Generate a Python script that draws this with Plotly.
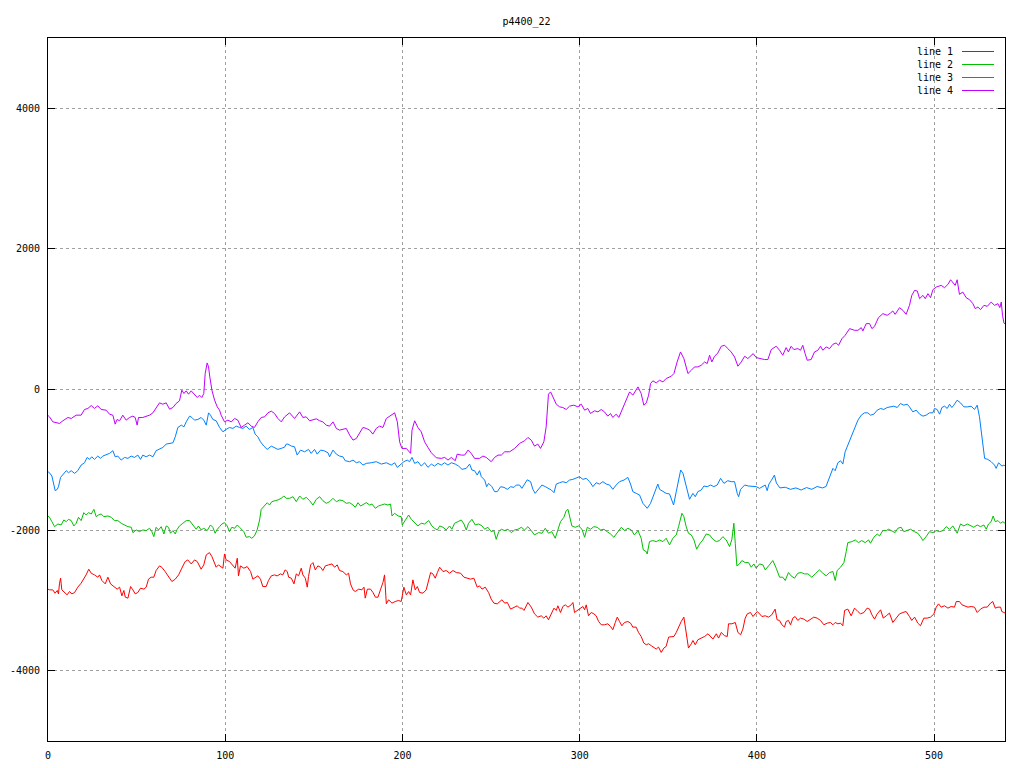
import plotly.graph_objects as go

title_text = "p4400_22"
series_names = ["line 1", "line 2", "line 3", "line 4"]
series_colors = ["#ff0000", "#00c000", "#0080ff", "#c000ff"]
x_ticks = [0, 100, 200, 300, 400, 500]
y_ticks = [-4000, -2000, 0, 2000, 4000]
y_tick_labels = ["-4000", "-2000", "0", "2000", "4000"]

line1 = [(0,-2840),(0.85,-2850),(2.7,-2850),(4,-2897),(5.2,-2859),(5.9,-2907),(6.5,-2755),(7.1,-2684),(7.8,-2850),(8.9,-2874),
(10.8,-2921),(12.1,-2874),(13.5,-2907),(15,-2888),(16.8,-2812),(18.7,-2755),(20.2,-2698),(21.5,-2637),(23,-2556),(24.4,-2613),
(26.2,-2637),(28.1,-2670),(29.1,-2637),(30.4,-2717),(32.3,-2765),(33.8,-2670),(35.3,-2765),(37.2,-2803),(39,-2840),(40.4,-2812),
(41.7,-2935),(42.8,-2859),(43.6,-2954),(45.1,-2968),(46.6,-2803),(47.9,-2850),(49.2,-2907),(50.7,-2888),(52.2,-2826),(54.1,-2840),
(55.4,-2812),(56.7,-2698),(58.2,-2670),(59.7,-2670),(61,-2575),(62.9,-2509),(64.2,-2528),(66.1,-2590),(68,-2660),(69.9,-2731),
(71.8,-2698),(73.7,-2637),(75.5,-2542),(77.4,-2447),(78.9,-2424),(80.8,-2481),(82.7,-2424),(84.2,-2447),(86.4,-2556),(87.9,-2495),
(89.3,-2353),(91.1,-2320),(92.5,-2377),(93.6,-2447),(94.9,-2528),(96.2,-2495),(97.7,-2519),(98.7,-2542),(99.6,-2339),(100.5,-2424),
(102.4,-2447),(104.3,-2495),(105.6,-2542),(106.8,-2400),(107.5,-2651),(108.6,-2509),(110.5,-2542),(112.4,-2519),(114.3,-2590),(115.6,-2698),
(116.9,-2670),(118.4,-2651),(119.9,-2698),(121.2,-2803),(123.1,-2803),(124.4,-2717),(126,-2651),(127.8,-2637),(129.3,-2651),(131.2,-2623),
(132.5,-2637),(133.8,-2566),(135,-2590),(135.8,-2670),(137.3,-2684),(138.8,-2765),(140.1,-2623),(141.4,-2651),(142.9,-2542),(143.8,-2637),
(145.2,-2684),(146.3,-2812),(147,-2660),(148.2,-2495),(149.5,-2462),(150.8,-2566),(152.3,-2509),(153.8,-2528),(155.1,-2575),(156.5,-2509),
(158.3,-2495),(160.2,-2481),(161.7,-2528),(163.2,-2495),(164.5,-2575),(166.4,-2590),(168.3,-2637),(169.6,-2613),(170.7,-2765),(172.1,-2850),
(173.4,-2874),(175.3,-2840),(177.1,-2850),(178.3,-2812),(179,-2968),(180.2,-2840),(182,-2840),(183.4,-2888),(184.7,-2954),(186.2,-2954),
(187.7,-2840),(189,-2746),(189.9,-2637),(190.9,-3049),(192.2,-2992),(194.1,-3039),(195.9,-3016),(197.8,-3001),(199.3,-3016),(200.3,-2897),
(200.8,-2812),(202.2,-2921),(203.5,-2874),(204.6,-2921),(205.9,-2708),(207.2,-2850),(208.4,-2803),(209.7,-2888),(211.6,-2897),(213.4,-2850),
(214.8,-2717),(215.9,-2604),(217.2,-2623),(218.5,-2684),(219.7,-2604),(221,-2528),(222.9,-2590),(224.7,-2575),(226.6,-2613),(228.5,-2575),
(230.4,-2604),(232.8,-2613),(234.7,-2670),(236.6,-2684),(238.5,-2698),(240.3,-2684),(242.2,-2812),(243.5,-2793),(244.9,-2840),(246.7,-2812),
(248.6,-2888),(250.1,-2982),(251.6,-3039),(253.5,-3049),(254.8,-3016),(256.1,-2992),(257.7,-3039),(259.2,-3030),(261,-3124),(262.9,-3096),
(264.8,-3077),(266.1,-3110),(267.4,-3110),(268.6,-3143),(269.9,-3063),(270.8,-3030),(272.7,-3096),(274.5,-3191),(276.4,-3238),(278.3,-3219),
(279.8,-3252),(281.1,-3219),(282.4,-3276),(283.9,-3191),(285.5,-3110),(286.8,-3143),(287.7,-3077),(289.2,-3172),(290.5,-3087),(291.9,-3063),
(293.4,-3096),(295.2,-3063),(296.2,-3030),(297.1,-3172),(298.6,-3143),(300.5,-3110),(301.8,-3087),(302.8,-3134),(303.7,-3063),(305,-3219),
(306.5,-3172),(308,-3191),(309.3,-3219),(310.7,-3300),(312.2,-3347),(314,-3347),(315.9,-3333),(317.4,-3371),(318.7,-3418),(320.1,-3314),
(321.2,-3238),(322.5,-3300),(323.8,-3361),(325.3,-3314),(327.2,-3300),(328.7,-3323),(330,-3380),(331.9,-3380),(333.2,-3456),(334.7,-3513),
(336.2,-3607),(337.6,-3631),(338.9,-3617),(340.4,-3645),(341.9,-3664),(343.2,-3692),(344.5,-3664),(346,-3740),(347.5,-3678),(348.8,-3655),
(350.2,-3522),(351.7,-3513),(353.2,-3513),(354.5,-3456),(355.8,-3380),(357.3,-3300),(358.8,-3238),(359.6,-3371),(360.7,-3560),(361.4,-3678),
(363,-3617),(363.9,-3570),(365.2,-3631),(366.7,-3560),(368.6,-3536),(370.5,-3513),(372.4,-3475),(373.9,-3513),(375.2,-3550),(377.1,-3475),
(378.4,-3536),(379.9,-3456),(381.8,-3503),(383.3,-3513),(384,-3333),(385.9,-3333),(387.8,-3314),(389.3,-3456),(390.8,-3489),(392.1,-3408),
(393.4,-3252),(394.6,-3191),(396.4,-3172),(397.8,-3229),(399.1,-3181),(400.2,-3158),(401.5,-3191),(402.8,-3229),(404.7,-3219),(406.6,-3238),
(408.4,-3205),(410.3,-3124),(411.4,-3276),(412.8,-3285),(414.1,-3347),(415.6,-3380),(416.5,-3300),(417.8,-3285),(419,-3347),(420.3,-3252),
(421.6,-3229),(423.1,-3285),(424.6,-3252),(426.5,-3266),(428.4,-3300),(430.3,-3266),(432.1,-3238),(434,-3252),(435.9,-3285),(437.8,-3347),
(439.7,-3323),(441.5,-3314),(442.9,-3347),(444.2,-3314),(445.7,-3333),(447.2,-3323),(448.5,-3361),(449.5,-3143),(451.3,-3124),(453.2,-3219),
(455.1,-3110),(457,-3158),(458.5,-3191),(460.4,-3172),(462.2,-3110),(463.6,-3124),(464.9,-3205),(466.4,-3266),(467.9,-3191),(469.8,-3134),
(471.3,-3252),(473,-3219),(474.8,-3181),(476.7,-3314),(478.6,-3252),(480.5,-3191),(482.4,-3172),(484.2,-3158),(486.1,-3229),(487.4,-3285),
(489,-3238),(490.8,-3323),(492.3,-3361),(494.2,-3252),(496.1,-3252),(498,-3238),(499.9,-3191),(501.2,-3096),(502.5,-3049),(504,-3096),
(505.9,-3077),(507.8,-3110),(509.6,-3087),(511.5,-3096),(512.5,-3016),(514.3,-3016),(515.7,-3063),(517.2,-3077),(519.1,-3096),(520.9,-3087),
(522.8,-3096),(524.3,-3172),(526.2,-3124),(528.1,-3096),(530,-3096),(531.8,-3039),(533.1,-3016),(534.5,-3110),(536,-3096),(537.5,-3096),
(538.2,-3158),(539.4,-3172),(540,-3180)]

line2 = [(0,-1800),(0.85,-1818),(2.2,-1880),(3.7,-1951),(5.6,-1913),(7.4,-1927),(8.9,-1856),(10.3,-1880),(11.6,-1847),(13.1,-1865),
(14.6,-1941),(15.9,-1903),(17.2,-1818),(18.7,-1865),(20.2,-1752),(21.5,-1785),(22.9,-1752),(24.4,-1771),(25.9,-1705),(27.2,-1809),
(28.5,-1785),(30,-1771),(31.5,-1809),(33.8,-1799),(35.7,-1818),(37.5,-1865),(39.4,-1865),(41.3,-1903),(43.2,-1927),(45.1,-1951),
(47,-1960),(47.9,-2036),(49.8,-1998),(51.6,-2022),(53.5,-1998),(55.4,-2007),(57.3,-1974),(58.6,-2022),(59.7,-2093),(61,-1960),
(62.4,-1998),(63.9,-1951),(65.4,-2055),(66.7,-1941),(68,-1960),(69.1,-2045),(70.5,-2007),(71.8,-2055),(72.9,-1988),(74.2,-1941),
(76.1,-1903),(78,-1865),(79.9,-1865),(81.7,-1927),(83.6,-1988),(84.9,-1941),(86.4,-1998),(87.9,-1974),(89.8,-2007),(91.7,-1927),
(93,-1960),(94.3,-2045),(95.5,-1988),(96.8,-1951),(98.1,-1913),(99.6,-1894),(101.1,-1941),(102.4,-2022),(103.7,-1960),(105.3,-1974),
(106.8,-1927),(108.1,-1960),(109.4,-1988),(110.5,-2022),(111.8,-2102),(113.7,-2093),(115,-2116),(116.5,-2083),(118,-1998),(119.4,-1856),
(120.3,-1705),(122.2,-1643),(123.7,-1610),(125,-1643),(126.3,-1596),(128.2,-1581),(129.7,-1572),(131.6,-1548),(133.1,-1515),(134.4,-1548),
(136.3,-1548),(138.2,-1525),(140.1,-1596),(142,-1515),(143.8,-1562),(145.7,-1534),(147.6,-1581),(149.5,-1643),(151.4,-1562),(153.3,-1525),
(155.1,-1581),(157,-1619),(158.9,-1596),(160.8,-1548),(162.7,-1596),(164.5,-1572),(166.4,-1581),(168.3,-1619),(170.2,-1610),(172.1,-1643),
(173.4,-1676),(174.9,-1610),(176.4,-1657),(178.3,-1629),(179.6,-1610),(181.5,-1643),(182.8,-1629),(184.7,-1690),(186.5,-1657),(188.1,-1643),
(189.9,-1629),(191.8,-1643),(193.3,-1629),(194.1,-1799),(195.6,-1761),(197.5,-1799),(199.3,-1809),(199.9,-1927),(201.6,-1865),(203.5,-1785),
(205,-1847),(206.9,-1903),(208.7,-1941),(210.6,-1903),(212.5,-1913),(214.8,-1865),(216.6,-1941),(218.1,-1974),(219.7,-1998),(221,-1941),
(222.9,-1960),(224.7,-1998),(226.6,-1941),(227.9,-1988),(229.4,-1903),(231.3,-1880),(233.2,-1856),(234.7,-1913),(236,-1998),(237.3,-1903),
(239.2,-1847),(241.1,-1927),(243,-1913),(244.9,-1941),(246.4,-1988),(248.2,-1960),(250.1,-2022),(251.6,-2007),(252.9,-2131),(254.3,-2022),
(255.8,-1988),(257.7,-2007),(259.5,-1988),(261.4,-2036),(263.3,-1998),(265.2,-1988),(267.1,-1960),(268.9,-1998),(270.8,-1951),(272.7,-2007),
(274.5,-2069),(276.8,-2036),(278.7,-2045),(280.6,-1974),(282.4,-2045),(284.3,-2022),(286.2,-2116),(287.7,-1998),(289.2,-1880),(291.1,-1818),
(292.4,-1723),(293.4,-1705),(294.3,-1818),(295.6,-1941),(297.5,-1960),(299.4,-1941),(301.3,-1988),(302.8,-2102),(304.3,-1960),(306.1,-1988),
(308,-1951),(309.9,-1960),(311.8,-1998),(313.7,-1988),(315.5,-2022),(317.4,-2055),(319.3,-2102),(321.2,-2045),(323.5,-1960),(325.3,-2007),
(327.2,-1974),(329.1,-1998),(330.9,-2069),(332.9,-2007),(334.7,-2116),(335.9,-2282),(337.6,-2306),(338.1,-2339),(339.4,-2164),(341.3,-2149),
(343.2,-2164),(345.1,-2140),(347,-2164),(348.8,-2116),(350.7,-2211),(352.6,-2116),(354.5,-2069),(355.8,-1951),(356.9,-1832),(357.7,-1761),
(358.8,-1809),(360.1,-1951),(361.4,-2045),(363,-2069),(364.5,-2140),(366,-2272),(367.7,-2197),(369.5,-2140),(371.4,-2055),(373.3,-2069),
(375.2,-2130),(377.1,-2164),(378.9,-2149),(380.8,-2093),(382.7,-2140),(384.6,-2235),(385.9,-2130),(387,-1903),(387.8,-2187),(388.7,-2509),
(390.2,-2481),(391.5,-2433),(393.4,-2462),(395.3,-2462),(396.8,-2528),(398.3,-2481),(399.6,-2542),(401.5,-2481),(403.4,-2495),(404.7,-2566),
(406.6,-2509),(409,-2433),(410.9,-2542),(412.8,-2670),(414.6,-2670),(416,-2717),(417.8,-2604),(419.3,-2651),(421.2,-2684),(423.1,-2613),
(425,-2604),(426.9,-2623),(428.8,-2623),(431,-2670),(432.9,-2623),(435.3,-2566),(437.2,-2613),(439.1,-2651),(441,-2604),(442.9,-2590),
(444.2,-2717),(445.3,-2575),(447.2,-2528),(449.1,-2462),(450.4,-2306),(451.3,-2178),(453.6,-2164),(455.5,-2140),(457.3,-2178),(459.2,-2149),
(461.1,-2178),(463,-2140),(464.1,-2187),(466,-2102),(467.9,-2055),(469.2,-2083),(471.1,-2007),(473,-2007),(474.3,-1988),(476.2,-2007),
(478,-2036),(479.5,-1974),(481.4,-1960),(482.9,-2022),(484.8,-2007),(486.7,-1988),(488.9,-2022),(490.8,-2045),(492.3,-2093),(493.7,-2149),
(495.5,-2093),(497.4,-2022),(499.3,-2036),(501.2,-2007),(503.1,-2022),(505,-2007),(506.8,-1951),(508.7,-1988),(510.6,-1941),(511.9,-2007),
(513,-2045),(514.9,-1913),(516.8,-1941),(518.7,-1913),(520.5,-1941),(522.4,-1960),(524.3,-1927),(526.2,-1951),(528.1,-1927),(529.4,-1988),
(530.7,-1913),(532.2,-1880),(533.3,-1799),(534.5,-1880),(536,-1865),(537.5,-1903),(538.8,-1880),(540,-1903)]

line3 = [(0,-1170),(0.85,-1184),(2.2,-1231),(3.3,-1383),(4.05,-1439),(5.2,-1420),(5.9,-1383),(7.1,-1250),(8.4,-1217),(10.3,-1155),
(11.6,-1184),(13.1,-1155),(15,-1193),(16.8,-1155),(18.7,-1075),(20.6,-1042),(22.1,-966),(23.4,-994),(24.7,-957),(26.2,-994),
(28.1,-947),(29.6,-980),(30.9,-947),(32.8,-933),(34.7,-909),(36.6,-871),(37.9,-957),(39.4,-947),(41.3,-1004),(43.2,-966),
(45.1,-980),(46.9,-947),(48.8,-966),(50.7,-933),(52.2,-994),(53.5,-933),(55.4,-957),(57.3,-933),(59.2,-957),(61,-871),
(62.9,-852),(64.8,-824),(66.7,-777),(68.6,-767),(70.5,-758),(71.8,-673),(73.3,-540),(75.2,-507),(76.7,-531),(78,-460),
(79.9,-379),(81.2,-398),(82.7,-436),(84.6,-426),(86.4,-398),(87.9,-436),(89.3,-507),(90.6,-332),(91.7,-365),(93,-426),
(94.9,-445),(96.8,-540),(98.7,-602),(100.5,-568),(102.4,-540),(104.3,-554),(106.2,-521),(108.1,-540),(109.9,-554),(111.8,-521),
(113.7,-568),(115.6,-540),(116.9,-635),(118.4,-673),(119.9,-744),(121.8,-805),(123.7,-852),(126,-805),(127.8,-824),(129.7,-852),
(131.6,-838),(133.5,-820),(134.4,-777),(135.4,-777),(137.3,-805),(139.1,-815),(140.6,-933),(142.5,-862),(144.8,-886),(147,-852),
(148.5,-909),(150.4,-852),(151.9,-919),(153.8,-862),(155.7,-871),(158,-900),(158.9,-957),(160.8,-862),(162.7,-919),(164.5,-947),
(166.4,-957),(167.7,-1013),(170.2,-1027),(172.1,-1004),(174,-1042),(175.8,-1027),(177.7,-1075),(179.6,-1051),(182.4,-1042),(185.2,-1027),
(188.1,-1061),(190.9,-1042),(193.7,-1075),(195.6,-1042),(197.1,-1108),(199,-1061),(200.8,-1027),(202.7,-1004),(204,-1027),(205.4,-966),
(206.9,-1051),(208.7,-1027),(210.6,-1089),(212.5,-1042),(214.4,-1108),(216.3,-1061),(218.1,-1089),(220,-1051),(221.9,-1075),(223.8,-1042),
(225.7,-1075),(227.6,-1042),(229.8,-1061),(231.7,-1089),(233.6,-1136),(236,-1122),(237.9,-1061),(239.2,-1146),(240.7,-1155),(242.2,-1217),
(243.5,-1155),(244.5,-1240),(246.4,-1288),(247.5,-1383),(248.6,-1335),(250.5,-1383),(252,-1453),(253.5,-1453),(255.4,-1383),(257.3,-1392),
(259.2,-1420),(261,-1383),(262.9,-1392),(264.2,-1359),(266.1,-1359),(267.4,-1406),(268.9,-1340),(270.4,-1285),(272.3,-1311),(273.6,-1420),
(274.9,-1477),(276.8,-1420),(278.7,-1359),(280.6,-1382),(282.4,-1406),(284,-1430),(285.5,-1468),(286.8,-1345),(288.7,-1326),(290.5,-1311),
(292.4,-1326),(294.3,-1288),(296.2,-1278),(298.1,-1264),(299.9,-1240),(301.8,-1278),(303.7,-1264),(305.6,-1311),(307.5,-1382),(309.3,-1326),
(311.2,-1345),(313.1,-1311),(315,-1345),(316.9,-1359),(318.7,-1420),(320.6,-1359),(322.5,-1311),(325,-1288),(327.2,-1250),(328.7,-1345),
(330,-1453),(331.9,-1477),(333.8,-1501),(335.7,-1619),(338.1,-1690),(340,-1619),(341.9,-1501),(342.6,-1430),(344.1,-1345),(345.1,-1420),
(347,-1453),(348.8,-1477),(350.7,-1486),(353,-1643),(354.5,-1453),(355.8,-1311),(357,-1146),(358.3,-1193),(359.6,-1311),(361.1,-1477),
(362,-1562),(363.9,-1477),(365.2,-1525),(366.7,-1453),(368.6,-1430),(370.1,-1373),(372,-1382),(373.9,-1359),(375.7,-1382),(377.6,-1359),
(379.5,-1264),(381.4,-1335),(383.6,-1297),(385.5,-1311),(387.4,-1311),(388.9,-1477),(389.7,-1525),(390.8,-1420),(393.1,-1359),(395.3,-1373),
(397.8,-1373),(399.6,-1382),(401.5,-1406),(402.8,-1382),(404.7,-1359),(405.8,-1439),(406.8,-1345),(408,-1300),(409.9,-1217),(411,-1330),
(413,-1400),(416,-1390),(419,-1420),(422,-1400),(425,-1430),(428,-1395),(431,-1420),(434,-1380),(437,-1400),(439,-1380),
(440.4,-1278),(441.5,-1193),(442.9,-1122),(444.2,-1155),(445.7,-1042),(447.2,-1013),(448.5,-1061),(449.8,-886),(451.3,-791),(452.8,-720),
(454.1,-616),(455.5,-531),(457,-436),(458.9,-365),(460.7,-332),(462.6,-332),(464.1,-365),(466,-351),(467.9,-294),(469.8,-270),
(471.6,-284),(473.5,-256),(475.4,-247),(477.3,-237),(479.2,-256),(481,-199),(482.9,-223),(484.8,-209),(486.1,-247),(488,-318),
(489.9,-294),(491.8,-351),(493.7,-379),(495.5,-365),(497.4,-332),(499.3,-332),(500.2,-270),(501.7,-284),(503.1,-351),(504.4,-256),
(505.9,-237),(507.4,-270),(508.7,-209),(510,-256),(511.1,-223),(513,-152),(514.9,-190),(516.8,-247),(519,-247),(520.9,-237),
(522.8,-284),(524.3,-223),(525.6,-389),(526.6,-578),(527.5,-814),(528.5,-980),(530.3,-994),(532.2,-1027),(534.1,-1075),(535,-1122),
(536.4,-1042),(538.2,-1089),(539.4,-1075),(540,-1090)]

line4 = [(0,-370),(0.85,-389),(2.7,-460),(6.5,-483),(8.4,-445),(10.3,-420),(11.2,-398),(13.1,-412),(15.9,-365),(18.7,-365),
(20.6,-284),(22.5,-270),(24.4,-228),(26.2,-270),(28.1,-232),(30,-284),(32.8,-294),(34.7,-351),(36.6,-365),(37.9,-493),
(39,-426),(40.4,-445),(42.2,-365),(44.1,-436),(46,-398),(47.9,-379),(49.2,-398),(50.3,-507),(51.1,-398),(53.5,-398),
(55.4,-379),(57.3,-365),(59.2,-332),(61,-270),(62.9,-190),(64.8,-209),(66.7,-190),(68.6,-280),(70.5,-256),(72.3,-199),
(74.2,-161),(75.5,-10),(76.7,-57),(78,-19),(79.3,-67),(80.8,-19),(82.7,-67),(84.2,-114),(85.5,-81),(86.8,-114),
(87.9,-57),(88.7,227),(89.8,378),(90.6,321),(91.3,179),(92.5,-10),(94,-152),(95.5,-247),(96.8,-294),(97.7,-365),
(99.6,-460),(101.5,-436),(103.4,-460),(105.3,-412),(107.1,-436),(109,-540),(110.9,-507),(112.8,-474),(114.7,-521),(116.5,-540),
(118.4,-460),(120.3,-398),(122.2,-389),(124.1,-332),(126,-308),(127.8,-341),(129.7,-412),(131.6,-460),(133.5,-390),(135.9,-332),
(136.3,-332),(139.1,-412),(142,-318),(143.8,-398),(145.7,-389),(147.6,-445),(149.5,-426),(151.4,-417),(153.3,-445),(155.1,-460),
(157,-507),(158.9,-521),(160.8,-460),(162.7,-554),(164.5,-578),(166.4,-568),(168.3,-554),(170.2,-649),(172.1,-720),(174,-696),
(175.8,-625),(177.7,-540),(179.6,-554),(181.5,-578),(183.3,-635),(185.2,-554),(187.1,-521),(189,-540),(190.9,-412),(193.3,-365),
(195.6,-332),(197.1,-460),(198.4,-744),(199.7,-838),(202.2,-838),(204.6,-909),(205.4,-578),(206.9,-445),(208.7,-540),(210.6,-602),
(212.5,-744),(214.4,-824),(216.3,-900),(219.1,-971),(221.9,-980),(223.8,-966),(225.7,-1004),(227.6,-966),(229.8,-1013),(230.9,-919),
(233.2,-933),(235.1,-933),(237,-862),(238.8,-909),(240.7,-980),(243.5,-980),(245.4,-947),(247.3,-966),(250.1,-1027),(252,-966),
(253.9,-933),(255.8,-933),(257.7,-886),(260.5,-886),(263.3,-838),(266.1,-767),(268.9,-730),(270.8,-682),(272.7,-720),(274.5,-805),
(276.4,-777),(277.9,-838),(279.8,-744),(281.1,-531),(281.7,-247),(282.4,-67),(283.6,-34),(285.5,-128),(286.8,-209),(288.7,-247),
(290.5,-256),(292.4,-284),(294.3,-237),(296.7,-223),(299,-247),(300.9,-209),(302.8,-294),(304.6,-270),(306.1,-341),(308.4,-303),
(310.3,-318),(312.2,-284),(314,-318),(315.9,-379),(317.4,-341),(318.7,-398),(320.6,-351),(322.1,-398),(323.5,-318),(325.3,-209),
(327.2,-105),(328.2,-34),(330,-81),(332.9,37),(334.7,-57),(336.2,-223),(337.6,-190),(338.9,-81),(340,85),(341.3,123),
(343.2,94),(345.1,132),(347,108),(348.8,156),(351.7,189),(353.2,227),(355,392),(356.9,534),(358.8,440),(361.1,227),
(363,274),(364.8,321),(366.7,321),(368.6,345),(370.5,392),(372,369),(373.3,487),(374.6,392),(376.1,473),(378,520),
(379.9,615),(381.8,629),(383.6,582),(385.5,534),(387.4,463),(389.3,331),(391.2,392),(393.1,473),(394.9,440),(397.9,511),
(399.6,454),(401.5,440),(404.3,426),(406.2,426),(408.1,568),(410.9,615),(412.8,558),(414.6,487),(416.5,596),(417.8,534),
(419.3,615),(420.9,568),(423.1,582),(424.6,558),(425.9,629),(427.2,511),(428.4,416),(430.6,426),(432.5,534),(434.4,558),
(435.9,615),(437.2,558),(439.1,605),(441,582),(442.9,643),(444.7,662),(446.1,629),(448,724),(449.8,771),(452.3,866),
(455.1,842),(457,842),(458.9,880),(459.8,833),(461.7,937),(463.6,937),(464.9,866),(466.4,899),(468.6,1022),(471.1,1079),
(473.5,1055),(475.4,1088),(476.7,1117),(478,1069),(480.5,1164),(482.4,1126),(484.2,1069),(486.1,1197),(487.4,1339),(489,1410),
(490.5,1401),(491.8,1292),(493.7,1339),(495,1292),(496.5,1363),(498,1306),(499.3,1419),(501.2,1457),(504,1481),(505.9,1448),
(507.8,1495),(509.3,1561),(510.6,1514),(511.9,1481),(513,1561),(514.3,1353),(516.2,1386),(518.1,1306),(520,1277),(521.9,1221),
(523.2,1150),(524.7,1173),(526.2,1136),(528.1,1197),(530,1183),(532.2,1244),(534.1,1197),(536,1221),(537.1,1164),(537.9,1244),
(538.6,1055),(539.4,946),(540,930)]

all_series = [line1, line2, line3, line4]

FONT = "DejaVu Sans Mono"
# The page body has an 8px margin, so the figure is sized to fit the window.
W, H = 1008, 752
ML, MR, MT, MB = 40, 11, 30, 19
OFF = 8  # page offset of the figure

fig = go.Figure()
for name, color, pts in zip(series_names, series_colors, all_series):
    xs = [p[0] for p in pts]
    ys = [p[1] for p in pts]
    fig.add_trace(go.Scatter(x=xs, y=ys, mode="lines", name=name,
                             line=dict(color=color, width=1), showlegend=False))

axis_common = dict(
    showline=True, linecolor="black", linewidth=1, mirror="ticks",
    ticks="inside", ticklen=7, tickwidth=1, tickcolor="black",
    showgrid=True, gridcolor="#a0a0a0", gridwidth=1, griddash="dot",
    zeroline=False, automargin=False,
    tickfont=dict(family=FONT, size=10, color="black"),
)

fig.update_xaxes(range=[0, 540], tickvals=x_ticks,
                 ticktext=[str(v) for v in x_ticks],
                 ticklabelstandoff=5, **axis_common)
fig.update_yaxes(range=[-5000, 5000], tickvals=y_ticks,
                 ticktext=y_tick_labels, ticklabelstandoff=5, **axis_common)

# gnuplot-style key: text followed by a line sample (page pixel positions)
plot_x0 = OFF + ML
plot_y1 = OFF + H - MB
plot_w = W - ML - MR
plot_h = H - MT - MB
key_text_x = (955 - plot_x0) / plot_w
key_line_x0 = (962 - plot_x0) / plot_w
key_line_x1 = (994 - plot_x0) / plot_w
key_rows_px = [51.5, 64.5, 77.5, 90.5]
annotations = []
shapes = []
for name, color, py in zip(series_names, series_colors, key_rows_px):
    yp = (plot_y1 - py) / plot_h
    annotations.append(dict(xref="paper", yref="paper", x=key_text_x, y=yp,
                            text=name, showarrow=False, xanchor="right",
                            yanchor="middle",
                            font=dict(family=FONT, size=10, color="black")))
    shapes.append(dict(type="line", xref="paper", yref="paper",
                       x0=key_line_x0, x1=key_line_x1, y0=yp, y1=yp,
                       line=dict(color=color, width=1)))

fig.update_layout(
    width=W, height=H, autosize=False,
    margin=dict(l=ML, r=MR, t=MT, b=MB, pad=0),
    paper_bgcolor="white", plot_bgcolor="white",
    title=dict(text=title_text, x=0.5, xref="paper", y=1 - (21 - OFF) / H,
               yref="container", xanchor="center", yanchor="middle",
               font=dict(family=FONT, size=10, color="black")),
    annotations=annotations, shapes=shapes,
    showlegend=False,
)

fig.write_html("out.html")
